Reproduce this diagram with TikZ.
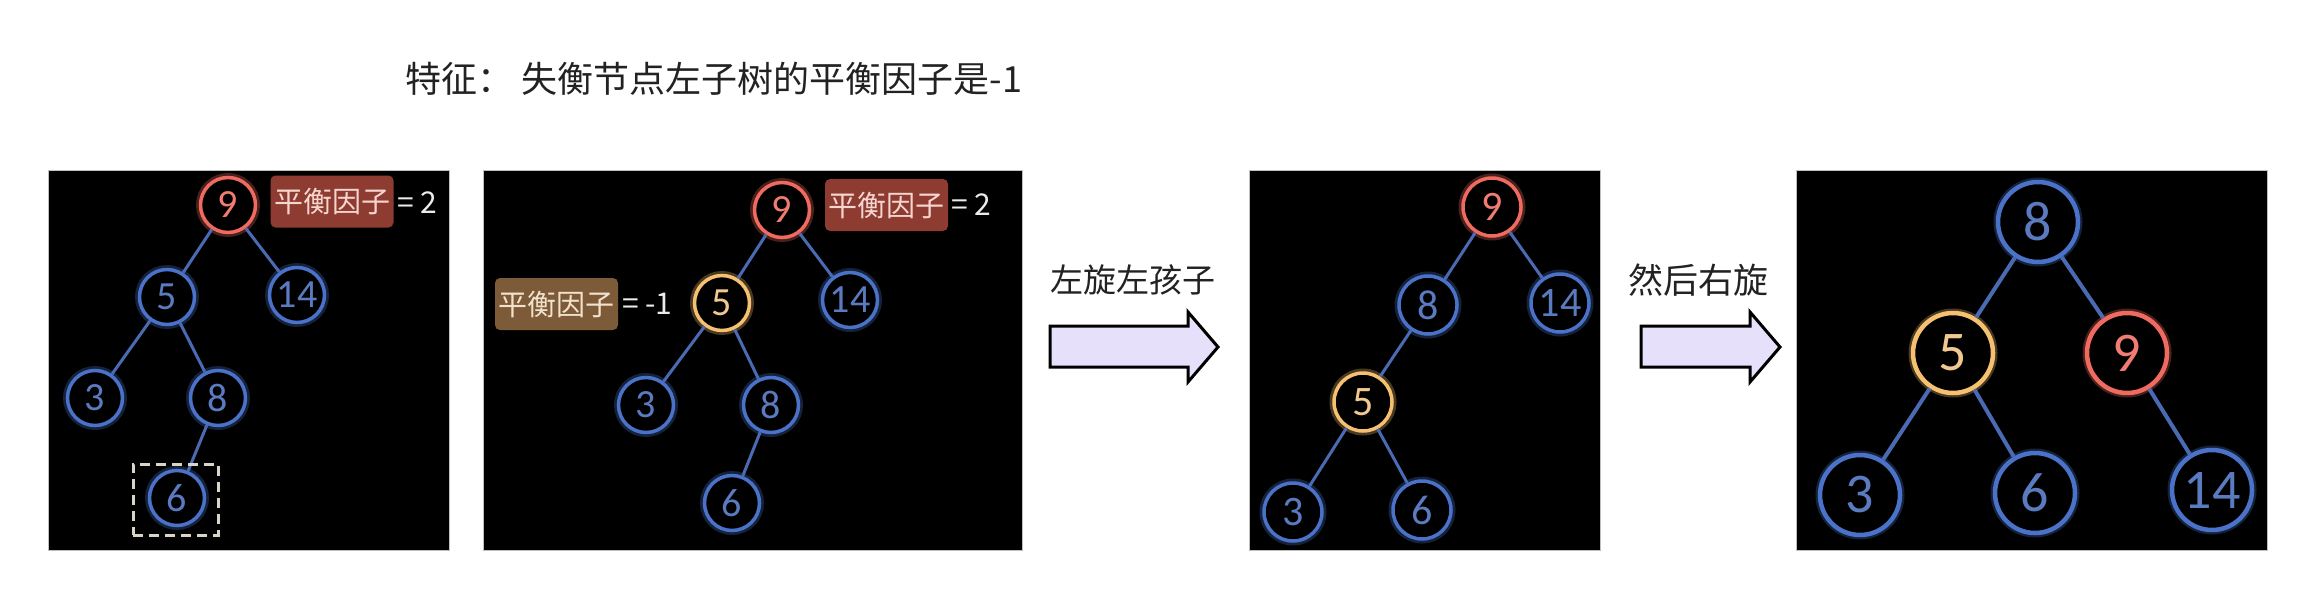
\documentclass[tikz,border=0pt]{standalone}
\usepackage{fontspec}
\setmainfont{Noto Sans CJK SC}
\newfontfamily\digitfont{Carlito}
\definecolor{nblue}{HTML}{4A72C8}
\definecolor{tblue}{HTML}{5B7BC0}
\definecolor{eblue}{HTML}{4A6AB4}
\definecolor{nred}{HTML}{F06A60}
\definecolor{tred}{HTML}{F07C72}
\definecolor{norange}{HTML}{F5C070}
\definecolor{torange}{HTML}{F0C890}
\definecolor{lred}{HTML}{8E3B32}
\definecolor{tlred}{HTML}{F5D6CF}
\definecolor{lbrown}{HTML}{7D5A38}
\definecolor{tlbrown}{HTML}{F2E2CC}
\definecolor{dboxc}{HTML}{D8D4C8}
\definecolor{afill}{HTML}{E6E0FA}
\definecolor{tdark}{HTML}{222222}
\tikzset{
  tn/.style={circle, inner sep=0pt, line width=3.5pt, minimum size=55pt, fill=black,
    font=\digitfont\fontsize{40}{40}\selectfont},
  p3/.style={minimum size=58pt, font=\digitfont\fontsize{42}{42}\selectfont},
  p4/.style={minimum size=80pt, line width=4.5pt, font=\digitfont\fontsize{56}{56}\selectfont},
  bn/.style={tn, draw=nblue, text=tblue, preaction={draw=nblue, line width=9pt, draw opacity=0.3}},
  rn/.style={tn, draw=nred, text=tred, preaction={draw=nred, line width=9pt, draw opacity=0.3}},
  on/.style={tn, draw=norange, text=torange, preaction={draw=norange, line width=9pt, draw opacity=0.3}},
  edge/.style={draw=eblue, line width=3pt},
  edge4/.style={draw=eblue, line width=4pt},
  panel/.style={fill=black, draw=black!25, line width=1pt},
  lbl/.style={rounded corners=5pt, minimum width=123pt, minimum height=52pt, inner sep=0pt,
    font=\fontsize{29}{29}\selectfont},
  redlbl/.style={lbl, fill=lred, text=tlred},
  brlbl/.style={lbl, fill=lbrown, text=tlbrown},
  eqtext/.style={text=white!92!black, font=\fontsize{30}{30}\selectfont, inner sep=0pt, anchor=west},
  dbox/.style={draw=dboxc, line width=3pt, dash pattern=on 10pt off 6pt, minimum width=85pt, minimum height=71pt, inner sep=0pt},
  bigarrow/.style={fill=afill, draw=black, line width=3pt},
  caption/.style={text=tdark, inner sep=0pt},
}
\begin{document}
\begin{tikzpicture}[x=1pt,y=-1pt]
\useasboundingbox (0,0) rectangle (2316,600);
\fill[white] (0,0) rectangle (2316,600);

% title
\node[caption, font=\fontsize{36}{36}\selectfont] (title) at (714,79) {特征： 失衡节点左子树的平衡因子是-1};

% panels
\draw[panel] (48,170) rectangle (449,550);
\draw[panel] (483,170) rectangle (1022,550);
\draw[panel] (1249,170) rectangle (1600,550);
\draw[panel] (1796,170) rectangle (2267,550);

% ---------- panel 1 ----------
\node[rn] (a9) at (228,205) {9};
\node[bn] (a5) at (167,297) {5};
\node[bn] (a14) at (297,295) {14};
\node[bn] (a3) at (95,398) {3};
\node[bn] (a8) at (218,398) {8};
\node[bn] (a6) at (177,498) {6};
\draw[edge] (a9) -- (a5);
\draw[edge] (a9) -- (a14);
\draw[edge] (a5) -- (a3);
\draw[edge] (a5) -- (a8);
\draw[edge] (a8) -- (a6);
\node[dbox] (abox) at (175.5,499.5) {};
\node[redlbl] (alab) at (332,201.5) {平衡因子};
\node[eqtext] (aeq) at (397,203) {= 2};

% ---------- panel 2 ----------
\node[rn] (b9) at (782,210) {9};
\node[on] (b5) at (722,303) {5};
\node[bn] (b14) at (850,300) {14};
\node[bn] (b3) at (646,405) {3};
\node[bn] (b8) at (771,405) {8};
\node[bn] (b6) at (732,503) {6};
\draw[edge] (b9) -- (b5);
\draw[edge] (b9) -- (b14);
\draw[edge] (b5) -- (b3);
\draw[edge] (b5) -- (b8);
\draw[edge] (b8) -- (b6);
\node[redlbl] (blab) at (886.5,205) {平衡因子};
\node[eqtext] (beq) at (951,205) {= 2};
\node[brlbl] (blab2) at (556.5,304) {平衡因子};
\node[eqtext] (beq2) at (622,304) {= -1};

% arrow 1
\node[caption, font=\fontsize{33}{33}\selectfont] (t1) at (1133,280) {左旋左孩子};
\draw[bigarrow] (1050,326) -- (1188,326) -- (1188,312) -- (1218,347) -- (1188,382) -- (1188,367) -- (1050,367) -- cycle;

% ---------- panel 3 ----------
\node[rn,p3] (c9) at (1492,207) {9};
\node[bn,p3] (c8) at (1428,305) {8};
\node[bn,p3] (c14) at (1560,303) {14};
\node[on,p3] (c5) at (1363,402) {5};
\node[bn,p3] (c3) at (1293,512) {3};
\node[bn,p3] (c6) at (1422,510) {6};
\draw[edge] (c9) -- (c8);
\draw[edge] (c9) -- (c14);
\draw[edge] (c8) -- (c5);
\draw[edge] (c5) -- (c3);
\draw[edge] (c5) -- (c6);

% arrow 2
\node[caption, font=\fontsize{35}{35}\selectfont] (t2) at (1698,280) {然后右旋};
\draw[bigarrow] (1641,326) -- (1750,326) -- (1750,312) -- (1780,347) -- (1750,382) -- (1750,367) -- (1641,367) -- cycle;

% ---------- panel 4 ----------
\node[bn,p4] (d8) at (2038,222) {8};
\node[on,p4] (d5) at (1953,353) {5};
\node[rn,p4] (d9) at (2127,353) {9};
\node[bn,p4] (d3) at (1860,495) {3};
\node[bn,p4] (d6) at (2035,493) {6};
\node[bn,p4] (d14) at (2212,490) {14};
\draw[edge4] (d8) -- (d5);
\draw[edge4] (d8) -- (d9);
\draw[edge4] (d5) -- (d3);
\draw[edge4] (d5) -- (d6);
\draw[edge4] (d9) -- (d14);
\end{tikzpicture}
\end{document}
